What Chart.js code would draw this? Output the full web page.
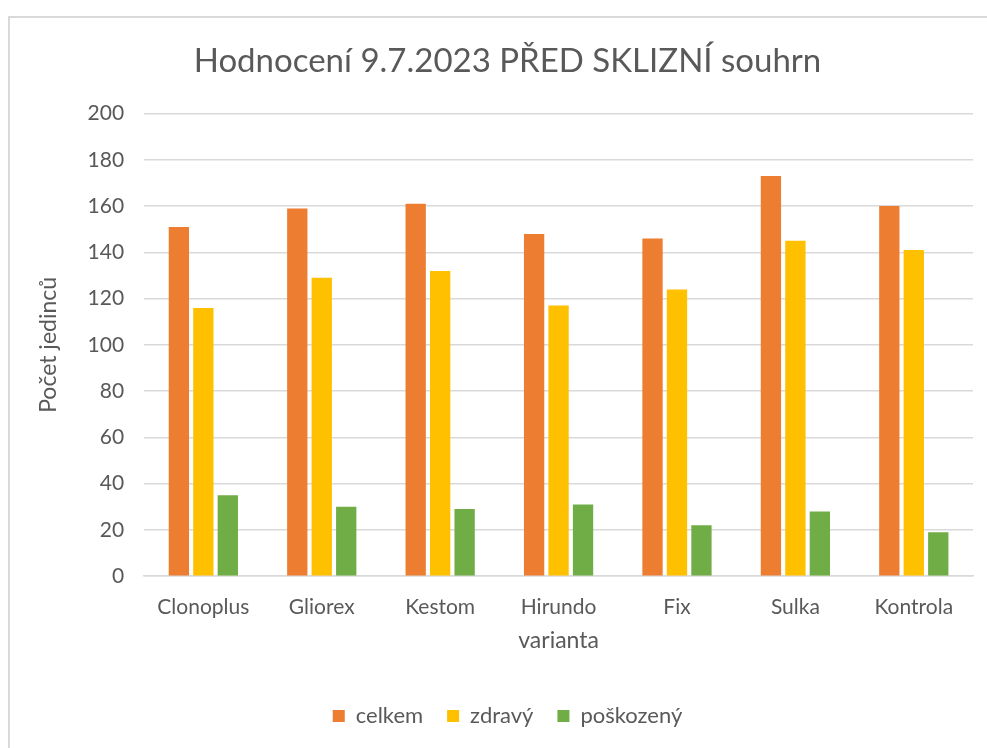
<!DOCTYPE html>
<html>
<head>
<meta charset="utf-8">
<script src="https://cdn.jsdelivr.net/npm/chart.js@4"></script>
<style>
  html, body { margin: 0; padding: 0; background: #fff; }
  #wrap { position: relative; width: 987px; height: 748px; overflow: hidden; }
  #frame { position: absolute; left: 8px; top: 16px; width: 1000px; height: 760px;
           border-left: 2px solid #d9d9d9; border-top: 2px solid #d9d9d9; }
  canvas { position: absolute; left: 0; top: 0; }
</style>
</head>
<body>
<div id="wrap">
  <div id="frame"></div>
  <canvas id="c" width="987" height="748"></canvas>
</div>
<script>
const categories = ["Clonoplus", "Gliorex", "Kestom", "Hirundo", "Fix", "Sulka", "Kontrola"];
const celkem    = [151, 159, 161, 148, 146, 173, 160];
const zdravy    = [116, 129, 132, 117, 124, 145, 141];
const poskozeny = [35, 30, 29, 31, 22, 28, 19];
const seriesNames = ["celkem", "zdravý", "poškozený"];
const seriesColors = ["#ED7D31", "#FFC000", "#70AD47"];
const yTicks = [0, 20, 40, 60, 80, 100, 120, 140, 160, 180, 200];

const FONT = "Lato, 'Open Sans', sans-serif";
const TXT = "#595959";

new Chart(document.getElementById("c"), {
  type: "bar",
  data: {
    labels: categories,
    datasets: [celkem, zdravy, poskozeny].map((d, i) => ({
      label: seriesNames[i],
      data: d,
      backgroundColor: seriesColors[i],
      borderWidth: 0,
      categoryPercentage: 0.62,
      barPercentage: 0.83
    }))
  },
  options: {
    responsive: false,
    animation: false,
    devicePixelRatio: 1,
    layout: { padding: { left: 42, right: 14, top: 42, bottom: 11 } },
    plugins: {
      title: {
        display: true,
        text: "Hodnocení 9.7.2023 PŘED SKLIZNÍ souhrn",
        color: TXT,
        font: { family: FONT, size: 33, weight: "normal" },
        padding: { top: 0, bottom: 32 }
      },
      legend: {
        position: "bottom",
        labels: {
          color: TXT,
          font: { family: FONT, size: 22 },
          boxWidth: 12, boxHeight: 12,
          padding: 24
        }
      },
      tooltip: { enabled: false }
    },
    scales: {
      x: {
        grid: { display: false, drawTicks: false },
        border: { display: true, color: "#d9d9d9", width: 1.5 },
        ticks: { color: TXT, font: { family: FONT, size: 21 }, padding: 18 },
        title: { display: true, text: "varianta", color: TXT,
                 font: { family: FONT, size: 23 }, padding: { top: -11, bottom: 27 } }
      },
      y: {
        min: 0, max: 200,
        afterBuildTicks: (axis) => { axis.ticks = yTicks.map(v => ({ value: v })); },
        grid: { color: "#d9d9d9", lineWidth: 1.5, drawTicks: false },
        border: { display: false },
        ticks: { color: TXT, font: { family: FONT, size: 21 }, padding: 20 },
        title: { display: true, text: "Počet jedinců", color: TXT,
                 font: { family: FONT, size: 23 }, padding: { top: -7, bottom: 5 } }
      }
    }
  }
});
</script>
</body>
</html>
